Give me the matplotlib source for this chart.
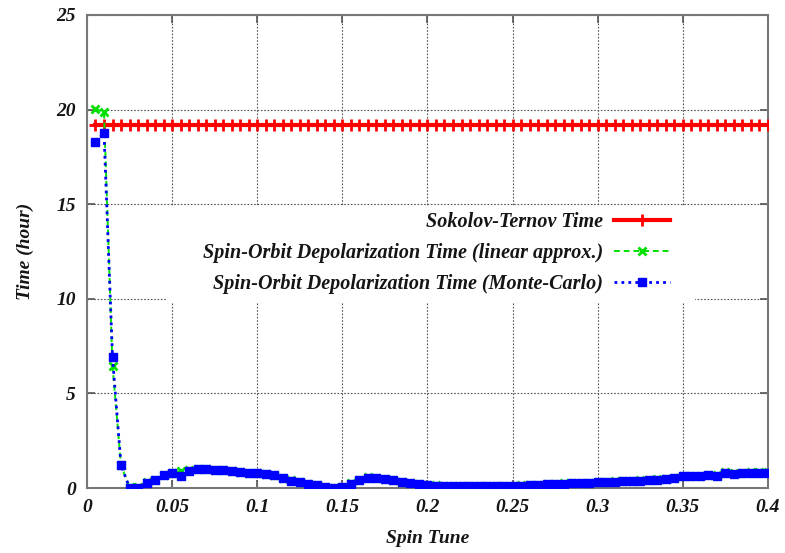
import numpy as np
import matplotlib
matplotlib.use("Agg")
import matplotlib.pyplot as plt
from matplotlib.patches import Rectangle

plt.rcParams['font.family'] = ['Liberation Serif', 'DejaVu Serif']
plt.rcParams['font.weight'] = 'bold'
plt.rcParams['font.style'] = 'italic'
plt.rcParams['axes.labelweight'] = 'bold'

# spin tune scan, step 0.005
spin_tune = np.round(np.arange(1, 81) * 0.005, 3)

# Sokolov-Ternov polarization time (hours)
t_st = [19.2] * 80

# spin-orbit depolarization time, Monte-Carlo (hours)
t_mc = [18.3, 18.75, 6.9, 1.2, 0.02, 0.02, 0.28, 0.42, 0.67, 0.78,
        0.63, 0.91, 1.0, 1.0, 0.96, 0.93, 0.9, 0.85, 0.8, 0.78,
        0.72, 0.67, 0.51, 0.39, 0.30, 0.2, 0.14, 0.04, 0.0, 0.04,
        0.23, 0.42, 0.55, 0.53, 0.46, 0.42, 0.30, 0.25, 0.19, 0.14,
        0.13, 0.12, 0.12, 0.12, 0.11, 0.11, 0.11, 0.11, 0.11, 0.12,
        0.13, 0.14, 0.16, 0.19, 0.21, 0.23, 0.25, 0.27, 0.28, 0.3,
        0.31, 0.33, 0.35, 0.37, 0.39, 0.42, 0.44, 0.48, 0.51, 0.63,
        0.63, 0.63, 0.67, 0.65, 0.81, 0.76, 0.78, 0.81, 0.81, 0.82]

# spin-orbit depolarization time, linear approximation (hours)
t_lin = [20.03, 19.86, 6.45, 1.2, 0.03, 0.03, 0.3, 0.44, 0.69, 0.8,
         0.91, 0.93, 1.01, 1.01, 0.97, 0.94, 0.91, 0.86, 0.81, 0.79,
         0.73, 0.68, 0.52, 0.4, 0.31, 0.21, 0.15, 0.05, 0.01, 0.05,
         0.24, 0.43, 0.56, 0.54, 0.47, 0.43, 0.31, 0.26, 0.2, 0.15,
         0.14, 0.13, 0.13, 0.13, 0.12, 0.12, 0.12, 0.12, 0.12, 0.13,
         0.14, 0.15, 0.17, 0.2, 0.22, 0.24, 0.26, 0.28, 0.29, 0.31,
         0.33, 0.35, 0.37, 0.39, 0.41, 0.44, 0.46, 0.5, 0.53, 0.65,
         0.65, 0.65, 0.69, 0.68, 0.84, 0.8, 0.82, 0.85, 0.86, 0.87]

labels = ["Sokolov-Ternov Time",
          "Spin-Orbit Depolarization Time (linear approx.)",
          "Spin-Orbit Depolarization Time (Monte-Carlo)"]

fig = plt.figure(figsize=(7.85, 5.53), dpi=100)
ax = fig.add_axes([0.1108, 0.1175, 0.8675, 0.8554])

ax.plot(spin_tune, t_st, color='#ff0000', lw=3, marker='+', ms=9, mew=2,
        label=labels[0], zorder=3)
ax.plot(spin_tune, t_lin, color='#00e000', lw=1.4, ls=(0, (3, 2)), marker='x',
        ms=6, mew=2, label=labels[1], zorder=4)
ax.plot(spin_tune, t_mc, color='#0000ff', lw=2, ls=(0, (1, 1.5)), marker='s',
        ms=6, label=labels[2], zorder=5)

ax.set_xlim(0, 0.4)
ax.set_ylim(0, 25)
ax.set_xticks([0, 0.05, 0.1, 0.15, 0.2, 0.25, 0.3, 0.35, 0.4])
ax.set_xticklabels(['0', '0.05', '0.1', '0.15', '0.2', '0.25', '0.3', '0.35', '0.4'])
ax.set_yticks([0, 5, 10, 15, 20, 25])

ax.set_axisbelow(True)
ax.grid(True, color='#555555', ls=(0, (1.5, 1.5)), lw=0.8)
ax.tick_params(direction='in', length=6, width=1.2, color='#555555',
               top=True, right=True, labelsize=14, labelcolor='#151515', pad=8)
for s in ax.spines.values():
    s.set_color('#777777')
    s.set_linewidth(1.5)

# blank the grid behind the key
ax.add_patch(Rectangle((0.047, 9.85), 0.31, 5.05, facecolor='white',
                       edgecolor='none', zorder=1))

ax.set_xlabel('Spin Tune', fontsize=14, color='#151515', labelpad=10)
ax.set_ylabel('Time (hour)', fontsize=14, color='#151515', labelpad=16)

leg = ax.legend(loc='upper right', bbox_to_anchor=(0.877, 0.650),
                bbox_transform=fig.transFigure, markerfirst=False,
                frameon=False, prop={'size': 14.5, 'weight': 'bold', 'style': 'italic'},
                handlelength=2.8, handletextpad=0.55, labelspacing=0.55)
for t in leg.get_texts():
    t.set_ha('right')
    t.set_color('#151515')
leg._legend_box.align = 'right'

fig.savefig('out.png', dpi=100)
